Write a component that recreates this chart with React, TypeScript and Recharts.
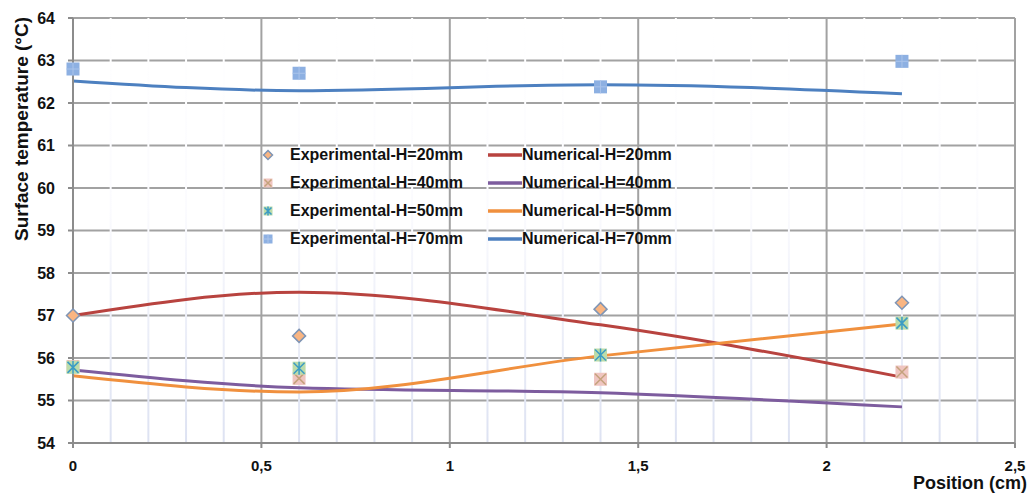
import {
  CartesianGrid,
  ComposedChart,
  Line,
  ReferenceLine,
  Scatter,
  XAxis,
  YAxis,
} from "recharts";

// positions (cm) where experiment and simulation were compared
const positions = [0, 0.6, 1.4, 2.2];

const exp20 = [57.0, 56.52, 57.15, 57.3];
const exp40 = [55.8, 55.52, 55.5, 55.67];
const exp50 = [55.78, 55.76, 56.07, 56.82];
const exp70 = [62.8, 62.7, 62.38, 62.98];

const num20 = [57.0, 57.55, 56.78, 55.55];
const num40 = [55.72, 55.3, 55.18, 54.85];
const num50 = [55.58, 55.2, 56.05, 56.8];
const num70 = [62.52, 62.29, 62.43, 62.22];

const xTicks = [0, 0.5, 1, 1.5, 2, 2.5];
const xMinorTicks = [
  0.1, 0.2, 0.3, 0.4, 0.6, 0.7, 0.8, 0.9, 1.1, 1.2, 1.3, 1.4, 1.6, 1.7, 1.8,
  1.9, 2.1, 2.2, 2.3, 2.4,
];
const yTicks = [54, 55, 56, 57, 58, 59, 60, 61, 62, 63, 64];

const toPoints = (vals: number[]) =>
  positions.map((x, i) => ({ x, y: vals[i] }));

const FONT = "'Liberation Sans', Arial, sans-serif";

type MarkerKind = "diamond" | "cross" | "star" | "square";

function Marker({ kind, cx, cy, s }: { kind: MarkerKind; cx: number; cy: number; s: number }) {
  const h = s / 2;
  if (kind === "diamond") {
    return (
      <polygon
        points={`${cx},${cy - h} ${cx + h},${cy} ${cx},${cy + h} ${cx - h},${cy}`}
        fill="#f9b582"
        stroke="#7f95b5"
        strokeWidth={1.5}
      />
    );
  }
  if (kind === "cross") {
    return (
      <g>
        <rect x={cx - h} y={cy - h} width={s} height={s} fill="#efc5c0" />
        <path
          d={`M${cx - h + 1},${cy - h + 1}L${cx + h - 1},${cy + h - 1}M${cx + h - 1},${cy - h + 1}L${cx - h + 1},${cy + h - 1}`}
          stroke="#c4a27c"
          strokeWidth={1.5}
        />
      </g>
    );
  }
  if (kind === "star") {
    return (
      <g>
        <rect x={cx - h} y={cy - h} width={s} height={s} fill="#bcdcaa" />
        <path
          d={`M${cx},${cy - h}L${cx},${cy + h}M${cx - h + 1},${cy - h + 1}L${cx + h - 1},${cy + h - 1}M${cx + h - 1},${cy - h + 1}L${cx - h + 1},${cy + h - 1}`}
          stroke="#3c9cc4"
          strokeWidth={1.5}
        />
      </g>
    );
  }
  return (
    <g>
      <rect x={cx - h} y={cy - h} width={s} height={s} fill="#8db0e2" />
      <path
        d={`M${cx},${cy - h}L${cx},${cy + h}M${cx - h},${cy}L${cx + h},${cy}`}
        stroke="#a9c3ea"
        strokeWidth={1}
      />
    </g>
  );
}

const experimental = [
  { name: "Experimental-H=20mm", kind: "diamond" as MarkerKind, values: exp20 },
  { name: "Experimental-H=40mm", kind: "cross" as MarkerKind, values: exp40 },
  { name: "Experimental-H=50mm", kind: "star" as MarkerKind, values: exp50 },
  { name: "Experimental-H=70mm", kind: "square" as MarkerKind, values: exp70 },
];

const numerical = [
  { name: "Numerical-H=20mm", color: "#b8433f", values: num20 },
  { name: "Numerical-H=40mm", color: "#7d5c9e", values: num40 },
  { name: "Numerical-H=50mm", color: "#f0903e", values: num50 },
  { name: "Numerical-H=70mm", color: "#4d80c0", values: num70 },
];

function ChartLegend() {
  const row: React.CSSProperties = {
    height: 28,
    display: "flex",
    alignItems: "center",
    whiteSpace: "nowrap",
  };
  return (
    <div
      style={{
        position: "absolute",
        left: 258,
        top: 141,
        display: "flex",
        fontFamily: FONT,
        fontWeight: "bold",
        fontSize: 16,
        color: "#111",
      }}
    >
      <div style={{ width: 222 }}>
        {experimental.map((e) => (
          <div key={e.name} style={row}>
            <svg width={24} height={14} style={{ marginRight: 8 }}>
              <Marker kind={e.kind} cx={10} cy={7} s={9} />
            </svg>
            {e.name}
          </div>
        ))}
      </div>
      <div>
        {numerical.map((n) => (
          <div key={n.name} style={row}>
            <svg width={42} height={14}>
              <line x1={8} y1={7} x2={46} y2={7} stroke={n.color} strokeWidth={3.5} />
            </svg>
            {n.name}
          </div>
        ))}
      </div>
    </div>
  );
}

const fmt = (v: number) => String(v).replace(".", ",");

export default function App() {
  return (
    <div style={{ position: "absolute", left: 0, top: 0, width: 1030, height: 493, background: "#fff" }}>
      <ComposedChart
        width={1030}
        height={493}
        margin={{ top: 18, right: 15, bottom: 20, left: 0 }}
      >
        <defs>
          <linearGradient id="minorGrad" gradientUnits="userSpaceOnUse" x1="0" y1="18" x2="0" y2="443">
            <stop offset="0%" stopColor="#ffffff" />
            <stop offset="45%" stopColor="#fbfbfe" />
            <stop offset="100%" stopColor="#dde2f2" />
          </linearGradient>
        </defs>
        <CartesianGrid stroke="#a2a2a2" strokeWidth={2} />
        {xMinorTicks.map((v) => (
          <ReferenceLine key={v} x={v} stroke="url(#minorGrad)" strokeWidth={2} />
        ))}
        <XAxis
          dataKey="x"
          type="number"
          domain={[0, 2.5]}
          ticks={xTicks}
          tickFormatter={fmt}
          height={30}
          tickSize={5}
          tickMargin={12}
          stroke="#8c8c8c"
          strokeWidth={2}
          tick={{ fontSize: 15, fontWeight: "bold", fill: "#111", fontFamily: FONT }}
          label={{
            content: (props: any) => {
              const vb = props.viewBox || { x: 73, y: 443, width: 942 };
              return (
                <text
                  x={vb.x + vb.width + 12}
                  y={vb.y + 46}
                  textAnchor="end"
                  fontFamily={FONT}
                  fontWeight="bold"
                  fontSize={18}
                  fill="#111"
                >
                  Position (cm)
                </text>
              );
            },
          }}
        />
        <YAxis
          type="number"
          dataKey="y"
          domain={[54, 64]}
          ticks={yTicks}
          width={73}
          tickSize={5}
          tickMargin={13}
          stroke="#8c8c8c"
          strokeWidth={2}
          tick={{ fontSize: 16, fontWeight: "bold", fill: "#111", fontFamily: FONT }}
          label={{
            content: (props: any) => {
              const vb = props.viewBox || { x: 0, y: 18 };
              const x = vb.x + 28;
              const y = vb.y + 111;
              return (
                <text
                  x={x}
                  y={y}
                  transform={`rotate(-90 ${x} ${y})`}
                  textAnchor="middle"
                  fontFamily={FONT}
                  fontWeight="bold"
                  fontSize={19}
                  fill="#111"
                >
                  Surface temperature (°C)
                </text>
              );
            },
          }}
        />
        {numerical.map((n) => (
          <Line
            key={n.name}
            data={toPoints(n.values)}
            dataKey="y"
            name={n.name}
            type="monotone"
            stroke={n.color}
            strokeWidth={3}
            dot={false}
            activeDot={false}
            isAnimationActive={false}
          />
        ))}
        {experimental.map((e) => (
          <Scatter
            key={e.name}
            data={toPoints(e.values)}
            dataKey="y"
            name={e.name}
            isAnimationActive={false}
            shape={(p: any) => <Marker kind={e.kind} cx={p.cx} cy={p.cy} s={13} />}
          />
        ))}
      </ComposedChart>
      <ChartLegend />
    </div>
  );
}
